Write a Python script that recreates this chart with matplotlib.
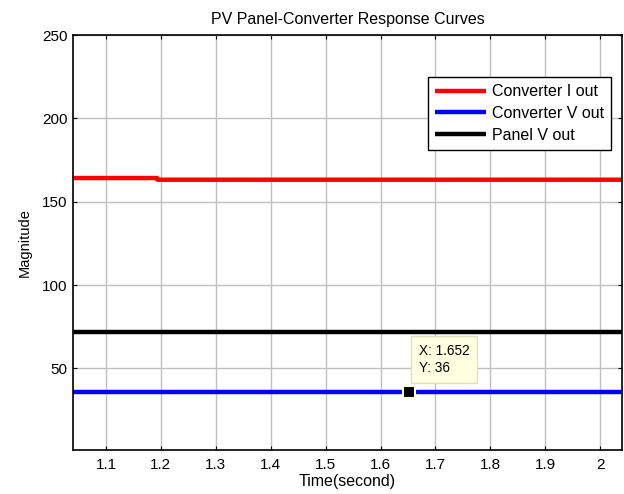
import matplotlib
matplotlib.use("Agg")
import matplotlib.pyplot as plt

# simulation time and the three measured outputs
t = [1.04, 1.193, 1.194, 2.04]
conv_i = [164.2, 164.2, 163.2, 163.2]
conv_v = [36, 36, 36, 36]
panel_v = [72, 72, 72, 72]

tip_x = 1.652
tip_y = 36

xticks = [1.1, 1.2, 1.3, 1.4, 1.5, 1.6, 1.7, 1.8, 1.9, 2]
xlabels = ["1.1", "1.2", "1.3", "1.4", "1.5", "1.6", "1.7", "1.8", "1.9", "2"]
yticks = [50, 100, 150, 200, 250]

plt.rcParams['font.family'] = ['Liberation Sans', 'DejaVu Sans']
plt.rcParams['font.size'] = 10

fig = plt.figure(figsize=(6.24, 4.94), dpi=100)
ax = fig.add_axes([0.117, 0.089, 0.88, 0.84])

ax.plot(t, conv_i, color='#ff0000', lw=3.2, label="Converter I out", solid_capstyle='butt')
ax.plot(t, conv_v, color='#0000ff', lw=3.2, label="Converter V out", solid_capstyle='butt')
ax.plot(t, panel_v, color='black', lw=3.2, label="Panel V out", solid_capstyle='butt')

ax.set_xlim(1.04, 2.04)
ax.set_ylim(1, 250)
ax.set_xticks(xticks)
ax.set_xticklabels(xlabels)
ax.set_yticks(yticks)
ax.grid(True, color='#c0c0c0', lw=1)
ax.set_axisbelow(True)
ax.tick_params(direction='in', length=3, top=True, right=True, labelsize=11)
ax.tick_params(axis='x', pad=6)
ax.tick_params(axis='y', pad=4)
for s in ax.spines.values():
    s.set_linewidth(1.2)

ax.set_title("PV Panel-Converter Response Curves", fontsize=11.5, pad=8)
ax.set_xlabel("Time(second)", fontsize=11.5, labelpad=1)
ax.set_ylabel("Magnitude", fontsize=10.5, labelpad=7)

leg = ax.legend(loc='upper right', bbox_to_anchor=(0.980, 0.899), fancybox=False,
                framealpha=1, edgecolor='black', handlelength=3.2, borderpad=0.45,
                labelspacing=0.42, fontsize=11.5, handletextpad=0.35, borderaxespad=0)
leg.get_frame().set_linewidth(1)

# data cursor
ax.plot([tip_x], [tip_y], marker='s', ms=8, mfc='black', mec='#ffffe1', mew=1.5, zorder=5)
ax.annotate("X: %.3f\nY: %d" % (tip_x, tip_y), xy=(tip_x, tip_y), xytext=(7, 12),
            textcoords='offset points', fontsize=9.8, va='bottom', ha='left',
            linespacing=1.3,
            bbox=dict(boxstyle='square,pad=0.55', fc='#ffffe1', ec='#e0e0c8', lw=1))

fig.savefig("out.png", dpi=100)
